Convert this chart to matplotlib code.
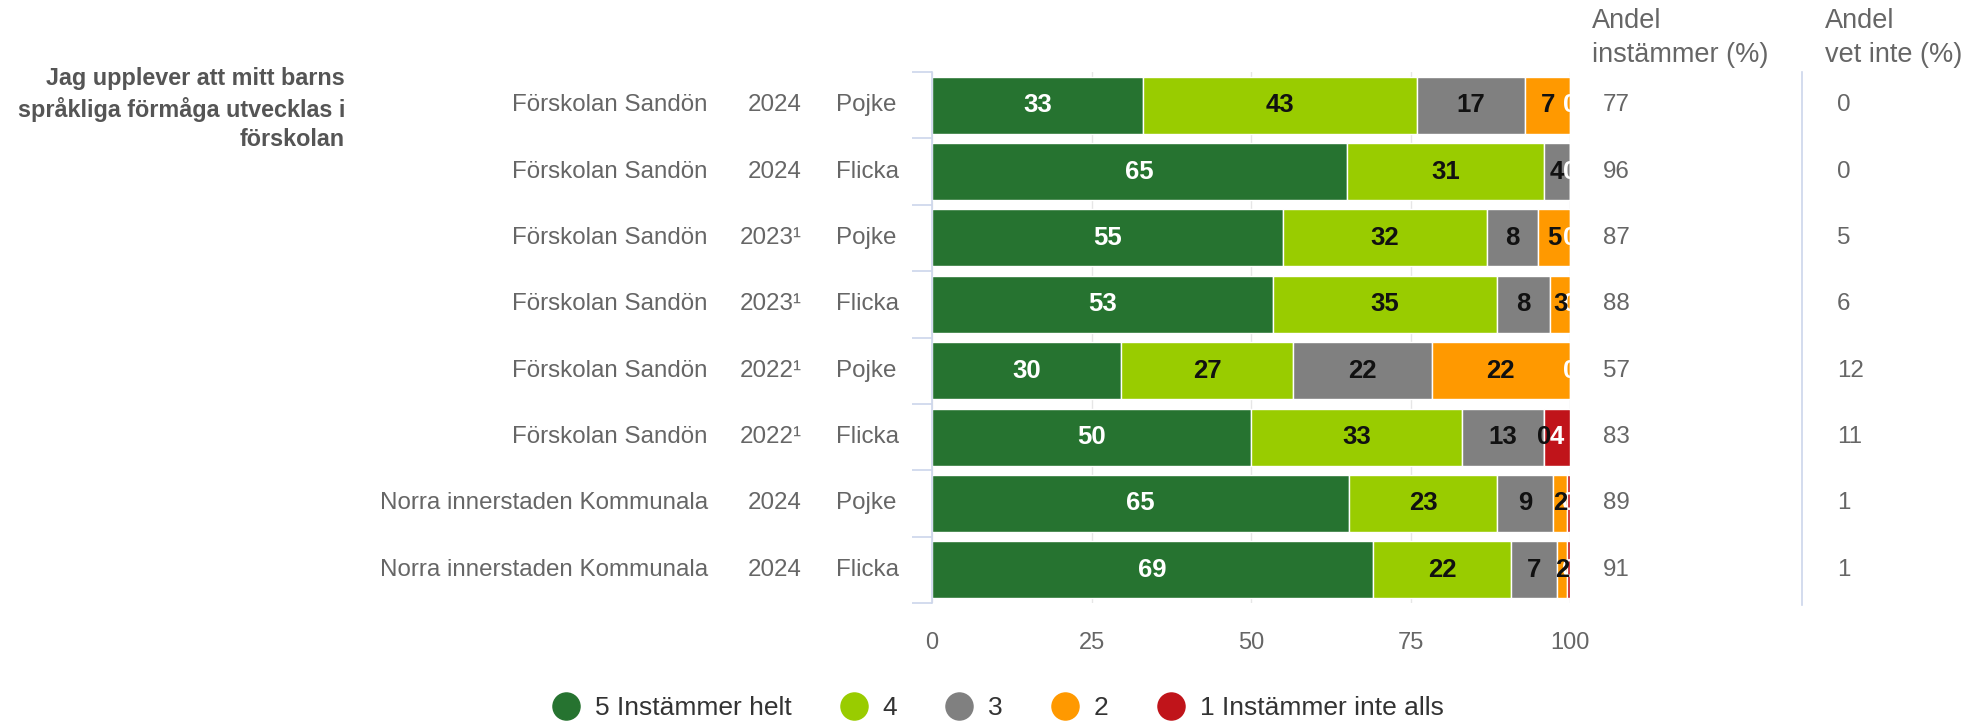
import numpy as np
import matplotlib.pyplot as plt
from matplotlib.lines import Line2D
from matplotlib.transforms import blended_transform_factory

plt.rcParams['font.family'] = ['Liberation Sans', 'DejaVu Sans']

# rows (top to bottom)
schools = ['Förskolan Sandön', 'Förskolan Sandön', 'Förskolan Sandön', 'Förskolan Sandön',
           'Förskolan Sandön', 'Förskolan Sandön',
           'Norra innerstaden Kommunala', 'Norra innerstaden Kommunala']
years = ['2024', '2024', '2023¹', '2023¹', '2022¹', '2022¹', '2024', '2024']
genders = ['Pojke', 'Flicka', 'Pojke', 'Flicka', 'Pojke', 'Flicka', 'Pojke', 'Flicka']

# answer shares (%)
helt = [33, 65, 55, 53.4, 29.6, 50, 65.4, 69.2]
fyra = [43, 31, 32, 35.2, 27.0, 33, 23.2, 21.6]
tre = [17, 4, 8, 8.3, 21.7, 13, 8.8, 7.2]
tva = [7, 0, 5, 3.1, 21.7, 0, 2.2, 1.6]
ett = [0, 0, 0, 0, 0, 4, 0.4, 0.4]

andel_instammer = [77, 96, 87, 88, 57, 83, 89, 91]
andel_vet_inte = [0, 0, 5, 6, 12, 11, 1, 1]

series_names = ['5 Instämmer helt', '4', '3', '2', '1 Instämmer inte alls']
colors = ['#267330', '#99cc00', '#808080', '#ff9900', '#c0141a']
label_colors = ['white', '#111111', '#111111', '#111111', 'white']

title = 'Jag upplever att mitt barns\nspråkliga förmåga utvecklas i\nförskolan'

W, H = 1965, 727
fig = plt.figure(figsize=(W / 100, H / 100), dpi=100)
ax = fig.add_axes([932 / W, 1 - 603 / H, 638 / W, 531 / H])

series = [helt, fyra, tre, tva, ett]
y = np.arange(len(schools))
left = np.zeros(len(schools))
starts = []
for vals, c in zip(series, colors):
    vals = np.array(vals, dtype=float)
    ax.barh(y, vals, left=left, height=0.86, color=c, edgecolor='white', linewidth=1, zorder=2)
    starts.append(left.copy())
    left = left + vals

# data labels, last series first so it wins on overlap
placed = {i: [] for i in y}
for k in range(len(series) - 1, -1, -1):
    for i in y:
        v = series[k][i]
        xc = starts[k][i] + v / 2
        if any(abs(xc - p) < 0.5 for p in placed[i]):
            continue
        placed[i].append(xc)
        ax.text(xc, i, f'{v:.0f}', ha='center', va='center', fontsize=18.5,
                fontweight='bold', color=label_colors[k], zorder=5)

ax.set_xlim(0, 100)
ax.set_ylim(len(schools) - 0.5, -0.5)
ax.set_xticks([0, 25, 50, 75, 100])
ax.tick_params(axis='x', length=0, pad=21, labelsize=17, labelcolor='#666666')
ax.set_yticks(np.arange(-0.5, len(schools), 1))
ax.set_yticklabels([])
ax.tick_params(axis='y', length=14.4, width=1.2, color='#ccd6eb')
ax.xaxis.grid(True, color='#e6e6e6', linewidth=1, zorder=0)
ax.set_axisbelow(True)
for s in ['top', 'right', 'bottom']:
    ax.spines[s].set_visible(False)
ax.spines['left'].set_color('#ccd6eb')
ax.spines['left'].set_linewidth(1.2)

# row labels and side columns
tr = blended_transform_factory(fig.transFigure, ax.transData)
for i in y:
    ax.text(708 / W, i, schools[i], transform=tr, ha='right', va='center', fontsize=17.4, color='#666666')
    ax.text(802 / W, i, years[i], transform=tr, ha='right', va='center', fontsize=17.4, color='#666666')
    ax.text(836 / W, i, genders[i], transform=tr, ha='left', va='center', fontsize=17.4, color='#666666')
    ax.text(1603 / W, i, str(andel_instammer[i]), transform=tr, ha='left', va='center', fontsize=17.4, color='#666666')
    ax.text(1837 / W, i, str(andel_vet_inte[i]), transform=tr, ha='left', va='center', fontsize=17.4, color='#666666')

fig.text(1592 / W, 1 - 38.5 / H, 'Andel\ninstämmer (%)', ha='left', va='center', fontsize=19.5,
         color='#666666', linespacing=1.4)
fig.text(1825 / W, 1 - 38.5 / H, 'Andel\nvet inte (%)', ha='left', va='center', fontsize=19.5,
         color='#666666', linespacing=1.4)
fig.add_artist(Line2D([1802 / W, 1802 / W], [1 - 72 / H, 1 - 605 / H], transform=fig.transFigure,
                      color='#ccd6eb', linewidth=1.2))

fig.text(345 / W, 1 - 109 / H, title, ha='right', va='center', multialignment='right',
         fontsize=16.8, fontweight='bold', color='#555555', linespacing=1.32)

handles = [Line2D([], [], linestyle='none', marker='o', markersize=19.5, color=c) for c in colors]
fig.legend(handles, series_names, loc='center', bbox_to_anchor=(0.508, 1 - 708 / H), ncol=5,
           frameon=False, fontsize=19, handlelength=1.0, handletextpad=0.6, columnspacing=1.85,
           labelcolor='#333333')

fig.savefig('out.png', dpi=100)
